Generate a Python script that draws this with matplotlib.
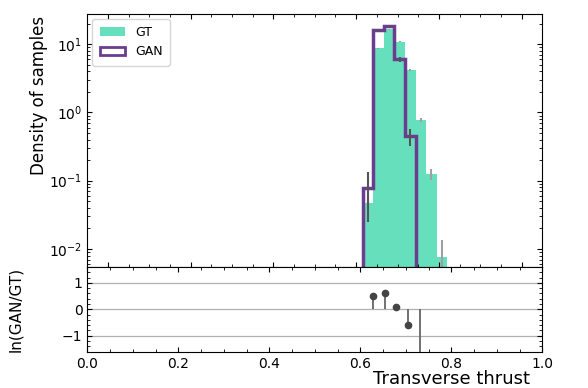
import numpy as np
import matplotlib
matplotlib.use("Agg")
import matplotlib.pyplot as plt
from matplotlib.ticker import AutoMinorLocator
from matplotlib.patches import Patch

# Bin edges (density histogram, 39 bins on [0, 1]; only populated region listed)
bin_edges = [0.6154, 0.6410, 0.6667, 0.6923, 0.7179, 0.7436, 0.7692, 0.7949, 0.8205]

# Ground-truth density per bin and its uncertainty
gt_density = [0.047, 8.65, 16.6, 10.8, 4.17, 0.78, 0.126, 0.0077]
gt_err = [0.0146, 0.198, 0.275, 0.222, 0.138, 0.060, 0.024, 0.0059]

# GAN density per bin (first five bins) and its uncertainty
gan_density = [0.079, 16.0, 18.4, 5.97, 0.446]
gan_err = [0.054, 0.77, 0.83, 0.47, 0.128]

gt_color = "#66e0bc"
gan_color = "#6b3d8e"

edges = np.array(bin_edges)
centers = 0.5 * (edges[:-1] + edges[1:])
gt = np.array(gt_density)
gan = np.array(gan_density)
n_gan = len(gan)

fig = plt.figure(figsize=(5.88, 3.88), dpi=100)
left, right = 0.1485, 0.9223
ax = fig.add_axes([left, 0.312, right - left, 0.965 - 0.312])
axr = fig.add_axes([left, 0.0936, right - left, 0.312 - 0.0936])

# top panel
ax.stairs(gt, edges, fill=True, color=gt_color)
ax.stairs(gan, edges[:n_gan + 1], fill=False, color=gan_color, lw=2.5)
ax.errorbar(centers, gt, yerr=gt_err, fmt="none", ecolor="#a0a0a0", elinewidth=1.5)
ax.errorbar(centers[:n_gan], gan, yerr=gan_err, fmt="none", ecolor="#555555", elinewidth=1.5)
ax.set_yscale("log")
ax.set_xlim(-0.05, 1.05)
ax.set_ylim(0.00545, 28)
ax.xaxis.set_minor_locator(AutoMinorLocator())
ax.tick_params(which="both", direction="in", top=True, right=True, labelbottom=False)
ax.tick_params(labelsize=10)
ax.set_ylabel("Density of samples", fontsize=12, loc="top")
ax.yaxis.set_label_coords(-0.086, 0.99)
handles = [Patch(facecolor=gt_color, edgecolor="none", label="GT"),
           Patch(facecolor="white", edgecolor=gan_color, lw=2, label="GAN")]
ax.legend(handles=handles, loc="upper left", fontsize=9, handlelength=2.0,
          borderpad=0.6, borderaxespad=0.4)

# ratio panel
ratio = np.log(gan / gt[:n_gan])
axr.vlines(centers[:n_gan], 0, ratio, color="#666666", lw=1.3)
axr.plot(centers[:n_gan], ratio, "o", color="#444444", ms=4.5)
axr.set_xlim(0, 1)
axr.set_ylim(-1.6, 1.6)
axr.set_yticks([-1, 0, 1])
axr.yaxis.grid(True, color="#b0b0b0", lw=0.9)
axr.set_axisbelow(True)
axr.xaxis.set_minor_locator(AutoMinorLocator())
axr.yaxis.set_minor_locator(AutoMinorLocator())
axr.tick_params(which="both", direction="in", top=True, right=True, labelsize=10)
axr.set_ylabel("ln(GAN/GT)", fontsize=11)
axr.yaxis.set_label_coords(-0.141, 0.5)
axr.set_xlabel("Transverse thrust", fontsize=13, loc="right")
axr.xaxis.set_label_coords(0.973, -0.216)

fig.savefig("out.png", dpi=100)
